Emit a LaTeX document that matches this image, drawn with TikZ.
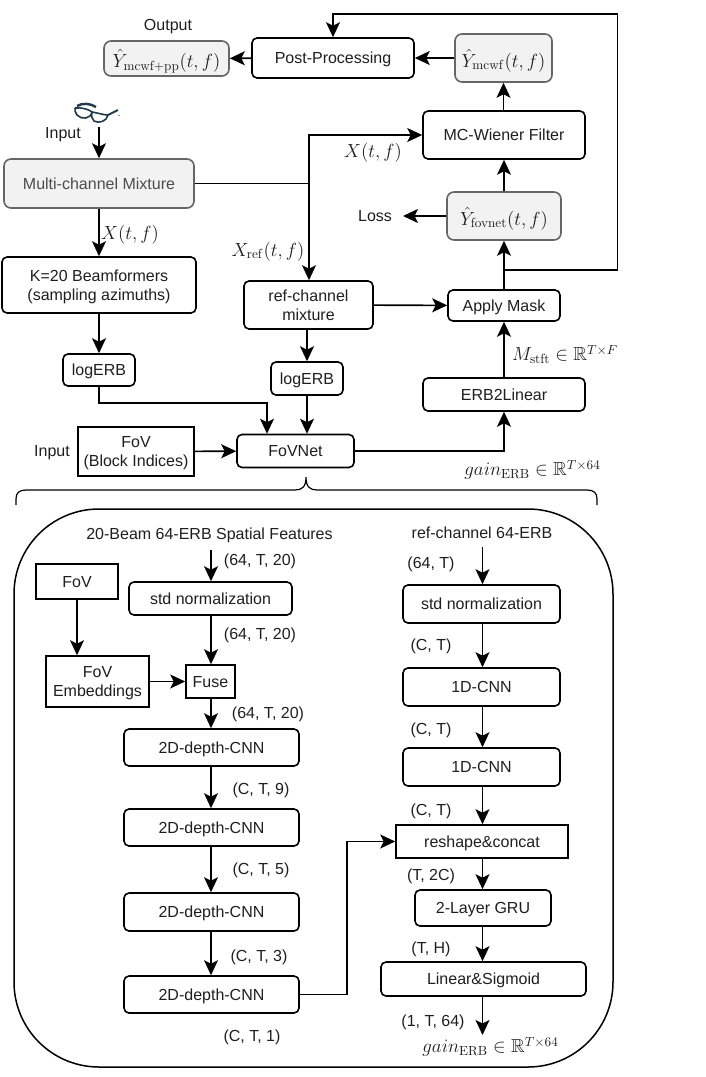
\documentclass[tikz,border=0pt]{standalone}
\usepackage{amsmath,amssymb,graphicx}
\usepackage[no-math]{fontspec}
\setmainfont{Liberation Sans}
\usetikzlibrary{arrows.meta,calc}
\definecolor{glass}{HTML}{1F3A4D}
\tikzset{
  x=1pt,y=-1pt,
  every node/.style={font=\fontsize{16}{19}\selectfont,inner sep=0pt,text=black!88,text depth=0pt},
  sz/.style 2 args={minimum width=#1pt,minimum height=#2pt},
  rbox/.style={draw=black,line width=1.6pt,rounded corners=5pt,align=center},
  sbox/.style={draw=black,line width=1.6pt,align=center},
  gbox/.style={draw=black!60,line width=1.6pt,rounded corners=7pt,fill=black!5,align=center},
  arr/.style={line width=1.6pt,-{Stealth[length=15pt,width=14pt,inset=3.5pt]}},
  lin/.style={line width=1.6pt},
  lab/.style={anchor=center},
}
\newcommand{\mth}[1]{{\fontsize{14.4}{17}\selectfont\scalebox{1.32}{$#1$}}}
\newcommand{\Xtf}{\mth{X(t,f)}}
\newcommand{\gainerb}{\mth{gain_{\mathrm{ERB}}\in\mathbb{R}^{T\times 64}}}
\begin{document}
\begin{tikzpicture}
\useasboundingbox (0,0) rectangle (706,1077);
\fill[white] (0,0) rectangle (706,1077);
% top
\node[rbox,sz={162}{40}] (post) at (333,58) {Post-Processing};
\node[gbox,sz={125}{35}] (ypp) at (166.5,58.5) {\mth{\hat{Y}_{\mathrm{mcwf+pp}}(t,f)}};
\node[gbox,sz={97}{48}] (ymc) at (503.5,58) {\mth{\hat{Y}_{\mathrm{mcwf}}(t,f)}};
\node[rbox,sz={162}{48}] (wien) at (504,135) {MC-Wiener Filter};
\node[gbox,sz={114}{48}] (yfov) at (504,216) {\mth{\hat{Y}_{\mathrm{fovnet}}(t,f)}};
\node[gbox,sz={190}{49},text=black!70] (mix) at (99,183.5) {Multi-channel Mixture};
\node[rbox,sz={194}{56}] (beam) at (99,285) {K=20 Beamformers\\(sampling azimuths)};
\node[rbox,sz={129}{48}] (ref) at (308.5,305) {ref-channel\\mixture};
\node[rbox,sz={112}{31}] (mask) at (504,305.5) {Apply Mask};
\node[rbox,sz={72}{32}] (log1) at (99,370) {logERB};
\node[rbox,sz={72}{33}] (log2) at (307,378.5) {logERB};
\node[rbox,sz={162}{33}] (e2l) at (504,394.5) {ERB2Linear};
\node[rbox,sz={117}{33}] (fov) at (295.5,451) {FoVNet};
\node[sbox,sz={116}{49}] (fovin) at (136,451.5) {FoV\\(Block Indices)};
% labels top
\node[lab] (lo) at (168,25) {Output};
\node[lab] (li) at (63,133) {Input};
\node[lab] (lx1) at (130,232) {\Xtf};
\node[lab] (lx2) at (373,150) {\Xtf};
\node[lab] (lx3) at (268,249) {\mth{X_{\mathrm{ref}}(t,f)}};
\node[lab] (ll) at (375,216) {Loss};
\coordinate (lle) at (403,216);
\node[lab] (lm) at (565,353) {\mth{M_{\mathrm{stft}}\in\mathbb{R}^{T\times F}}};
\node[lab] (lg1) at (532.5,468) {\gainerb};
\node[lab] (li2) at (52,451) {Input};
\coordinate (gl) at (99,127);
% glasses
\begin{scope}[line width=1.6pt,draw=glass]
\draw (75,108) .. controls (82,107) and (90,110) .. (92,112) .. controls (91,119) and (81,120) .. (77,115) .. controls (75,113) and (75,110) .. (75,108);
\draw (92,112) .. controls (98,113) and (104,115) .. (108,115) .. controls (107,121) and (99,124) .. (94,121) .. controls (92,119) and (91,116) .. (92,112);
\draw[line width=2pt] (108,115) -- (118,110);
\draw[line width=2.4pt] (77,106) .. controls (82,103) and (90,103) .. (96,107);
\fill[blue!70!black] (119,115.5) circle (0.7);
\end{scope}
% connectors top
\draw[arr] (gl) -- (mix.north -| gl);
\draw[arr] (post) -- (ypp);
\draw[arr] (ymc) -- (post);
\draw[arr] (wien.north -| ymc) -- (ymc);
\draw[arr] (yfov.north -| wien) -- (wien);
\draw[arr] (yfov.west) -- (lle);
\coordinate (jx) at (309,183.5);
\draw[lin] (mix) -- (jx);
\draw[arr] (jx) |- (wien.west);
\draw[arr] (jx) -- (ref.north -| jx);
\draw[arr] (mix.south -| gl) -- (beam.north -| gl);
\draw[arr] (mask.north -| yfov) -- (yfov);
\coordinate (jb) at (504,270);
\coordinate (jr) at (617.5,14);
\draw[arr] (jb) -| (jr) -| (post.north);
\draw[arr] (ref) -- (mask);
\draw[arr] (e2l.north -| yfov) -- (mask.south -| yfov);
\draw[arr] (beam.south -| log1) -- (log1);
\coordinate (f1) at (267,403);
\draw[arr] (log1.south) |- (f1) -- (f1 |- fov.north);
\draw[arr] (log2.south) -- (fov.north -| log2);
\draw[arr] (ref.south -| log2) -- (log2.north);
\draw[arr] (fovin) -- (fov);
\draw[arr] (fov) -| (e2l);
% brace
\coordinate (bl) at (16,505);
\coordinate (br) at (597,505);
\coordinate (bt) at (306,477);
\draw[line width=1.2pt] (bl) -- (16,499) .. controls (16,493) and (19,490) .. (26,490) -- (295,490) .. controls (302,490) and (306,487) .. (bt) .. controls (306,487) and (310,490) .. (317,490) -- (587,490) .. controls (594,490) and (597,493) .. (597,499) -- (br);
% large box
\draw[line width=1.5pt,rounded corners=85pt] (14,509) rectangle (613,1067);
% left column
\node[lab] (t1) at (209.5,534) {20-Beam 64-ERB Spatial Features};
\node[rbox,sz={163}{33}] (std1) at (210.5,598.5) {std normalization};
\node[sbox,sz={82}{35}] (fv) at (77,581.5) {FoV};
\node[sbox,sz={103}{51}] (emb) at (97.5,681.5) {FoV\\Embeddings};
\node[sbox,sz={49}{33}] (fuse) at (210.5,681.5) {Fuse};
\node[rbox,sz={175}{37}] (d1) at (211.5,747.5) {2D-depth-CNN};
\node[rbox,sz={175}{37}] (d2) at (211.5,827.5) {2D-depth-CNN};
\node[rbox,sz={175}{38}] (d3) at (211.5,912) {2D-depth-CNN};
\node[rbox,sz={175}{37}] (d4) at (211.5,994.5) {2D-depth-CNN};
\coordinate (c1) at (211,550);
\draw[arr] (c1) -- (std1.north -| c1);
\draw[arr] (std1.south -| c1) -- (fuse.north -| c1);
\draw[arr] (fv) -- (fv |- emb.north);
\draw[arr] (emb) -- (fuse);
\draw[arr] (fuse.south -| c1) -- (d1.north -| c1);
\draw[arr] (d1.south -| c1) -- (d2.north -| c1);
\draw[arr] (d2.south -| c1) -- (d3.north -| c1);
\draw[arr] (d3.south -| c1) -- (d4.north -| c1);
\node[lab] (a1) at (260,560) {(64, T, 20)};
\node[lab] (a2) at (260,634) {(64, T, 20)};
\node[lab] (a3) at (268,713) {(64, T, 20)};
\node[lab] (a4) at (261,789) {(C, T, 9)};
\node[lab] (a5) at (261,869) {(C, T, 5)};
\node[lab] (a6) at (259,956) {(C, T, 3)};
\node[lab] (a7) at (252,1036) {(C, T, 1)};
% right column
\node[lab] (t2) at (482,533) {ref-channel 64-ERB};
\node[rbox,sz={157}{38}] (std2) at (481.5,604) {std normalization};
\node[rbox,sz={157}{38}] (c1d1) at (481.5,687) {1D-CNN};
\node[rbox,sz={157}{38}] (c1d2) at (481.5,767) {1D-CNN};
\node[sbox,sz={172}{33}] (rc) at (482,841.5) {reshape\&concat};
\node[rbox,sz={136}{36}] (gru) at (483,908) {2-Layer GRU};
\node[rbox,sz={205}{34}] (ls) at (483.5,979) {Linear\&Sigmoid};
\coordinate (c2) at (482.5,547);
\coordinate (c3) at (482.5,1035);
\draw[arr] (c2) -- (std2.north -| c2);
\draw[arr] (std2.south -| c2) -- (c1d1.north -| c2);
\draw[arr] (c1d1.south -| c2) -- (c1d2.north -| c2);
\draw[arr] (c1d2.south -| c2) -- (rc.north -| c2);
\draw[arr] (rc.south -| c2) -- (gru.north -| c2);
\draw[arr] (gru.south -| c2) -- (ls.north -| c2);
\draw[arr] (ls.south -| c2) -- (c3);
\coordinate (cr) at (347,841.5);
\draw[arr] (d4.east) -| (cr) -- (rc.west);
\node[lab] (b1) at (431,563) {(64, T)};
\node[lab] (b2) at (431,645) {(C, T)};
\node[lab] (b3) at (431,729) {(C, T)};
\node[lab] (b4) at (431,810) {(C, T)};
\node[lab] (b5) at (431,875) {(T, 2C)};
\node[lab] (b6) at (431,948) {(T, H)};
\node[lab] (b7) at (433,1021) {(1, T, 64)};
\node[lab] (lg2) at (490.5,1045) {\gainerb};
\end{tikzpicture}
\end{document}
